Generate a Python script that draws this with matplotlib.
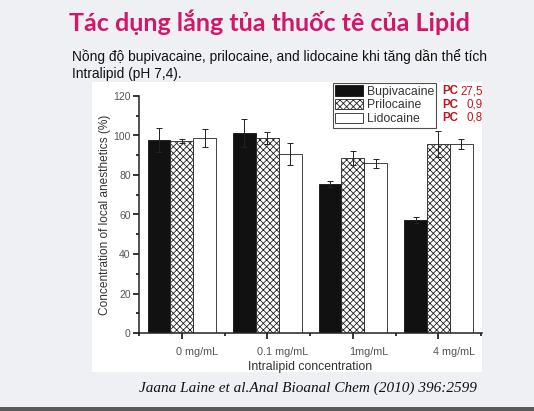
import matplotlib
matplotlib.use("Agg")
import matplotlib.pyplot as plt
import matplotlib.transforms as mtransforms
from matplotlib.patches import Rectangle, Patch
import numpy as np

categories = ["0 mg/mL", "0.1 mg/mL", "1mg/mL", "4 mg/mL"]
series_names = ["Bupivacaine", "Prilocaine", "Lidocaine"]
bupivacaine = [97.7, 101.3, 75.4, 57.2]
bupivacaine_err = [6.0, 7.0, 1.5, 1.5]
prilocaine = [97.2, 98.7, 88.6, 95.7]
prilocaine_err = [0.8, 3.2, 3.5, 6.5]
lidocaine = [98.7, 90.6, 86.0, 95.7]
lidocaine_err = [4.5, 5.5, 2.3, 2.5]
pc_labels = ["27,5", "0,9", "0,8"]
yticks = [0, 20, 40, 60, 80, 100, 120]

plt.rcParams["font.family"] = ["Liberation Sans", "DejaVu Sans"]
plt.rcParams["hatch.linewidth"] = 0.6

W, H = 534, 411
fig = plt.figure(figsize=(W / 100, H / 100), dpi=100)
fig.patch.set_facecolor("#eef0f4")

def fx(px):
    return px / W

def fy(py):
    return 1 - py / H

# white inset panel
fig.patches.append(Rectangle((fx(92), fy(372)), fx(482) - fx(92), fy(82) - fy(372),
                             transform=fig.transFigure, facecolor="white",
                             edgecolor="none", zorder=-5))
# bottom dark line
fig.patches.append(Rectangle((0, 0), 1, fy(407), transform=fig.transFigure,
                             facecolor="#5a5a5a", edgecolor="none", zorder=-5))

# title and subtitle
fig.text(fx(269), fy(22), "Tác dụng lắng tủa thuốc tê của Lipid", ha="center", va="center",
         fontsize=18, fontweight="bold", color="#d0176a", family="Lato")
fig.text(fx(72), fy(57), "Nồng độ bupivacaine, prilocaine, and lidocaine khi tăng dần thể tích",
         ha="left", va="center", fontsize=9.9, color="#111111")
fig.text(fx(72), fy(74), "Intralipid (pH 7,4).", ha="left", va="center", fontsize=9.9,
         color="#111111")
fig.text(fx(139), fy(388), "Jaana Laine et al.Anal Bioanal Chem (2010) 396:2599", ha="left",
         va="center", fontsize=11, style="italic", color="#111111", family="Liberation Serif")

ax = fig.add_axes([fx(139), fy(333), fx(482) - fx(139), fy(96) - fy(333)])
ax.set_zorder(5)
ax.set_facecolor("none")
x = np.arange(len(categories))
bw = 0.267
ekw = dict(elinewidth=0.7, capthick=0.7, ecolor="#222222")
ax.bar(x - bw, bupivacaine, bw, yerr=bupivacaine_err, color="#111111", edgecolor="#111111",
       linewidth=0.6, capsize=2, error_kw=ekw, zorder=2)
ax.bar(x, prilocaine, bw, yerr=prilocaine_err, color="white", edgecolor="#222222",
       hatch="xxxxx", linewidth=0.6, capsize=2, error_kw=ekw, zorder=2)
ax.bar(x + bw, lidocaine, bw, yerr=lidocaine_err, color="white", edgecolor="#222222",
       linewidth=0.6, capsize=2, error_kw=ekw, zorder=2)

ax.set_xlim(-0.5, 3.51)
ax.set_ylim(0, 120)
ax.set_yticks(yticks)
ax.set_yticks(np.arange(10, 120, 20), minor=True)
ax.set_xticks(x)
ax.set_xticks(np.arange(-0.5, 3.6, 1.0), minor=True)
ax.set_xticklabels(categories)
for sp in ["top", "right"]:
    ax.spines[sp].set_visible(False)
for sp in ["left", "bottom"]:
    ax.spines[sp].set_linewidth(1.1)
    ax.spines[sp].set_color("#222222")
ax.tick_params(axis="y", which="major", direction="out", length=4, width=1.1, labelsize=7.5,
               labelcolor="#555555", pad=2)
ax.tick_params(axis="y", which="minor", direction="out", length=2.5, width=1.1)
ax.tick_params(axis="x", which="major", direction="out", length=4, width=1.1, labelsize=7.8,
               labelcolor="#555555", pad=6)
ax.tick_params(axis="x", which="minor", direction="out", length=2.5, width=1.1)
# tick labels sit to the right of their ticks in the original figure
for lab in ax.get_xticklabels():
    lab.set_transform(lab.get_transform() + mtransforms.ScaledTranslation(15.5 / 100, 0, fig.dpi_scale_trans))
ax.set_xlabel("Intralipid concentration", fontsize=8.8, color="#333333", labelpad=3)
ax.set_ylabel("Concentration of local anesthetics (%)", fontsize=8.6, color="#333333", labelpad=1.5)

handles = [Patch(facecolor="#111111", edgecolor="#111111", linewidth=0.6),
           Patch(facecolor="white", edgecolor="#222222", hatch="xxxxx", linewidth=0.6),
           Patch(facecolor="white", edgecolor="#222222", linewidth=0.6)]
leg = fig.legend(handles, series_names, loc="upper left",
                 bbox_to_anchor=(fx(333), fy(83)), fontsize=8.8, frameon=True,
                 fancybox=False, edgecolor="#222222", handlelength=2.25, handleheight=0.9,
                 handletextpad=0.3, borderpad=0.2, labelspacing=0.12, borderaxespad=0)
leg.get_frame().set_linewidth(0.8)
leg.set_zorder(10)
for t in leg.get_texts():
    t.set_color("#333333")

for i, v in enumerate(pc_labels):
    yy = fy(91 + 13.5 * i)
    fig.text(fx(442), yy, "PC", ha="left", va="center", fontsize=8.3, fontweight="bold",
             color="#c0141c")
    fig.text(fx(483), yy, v, ha="right", va="center", fontsize=8.3, color="#c0141c")

fig.savefig("out.png", dpi=100, facecolor=fig.get_facecolor())
